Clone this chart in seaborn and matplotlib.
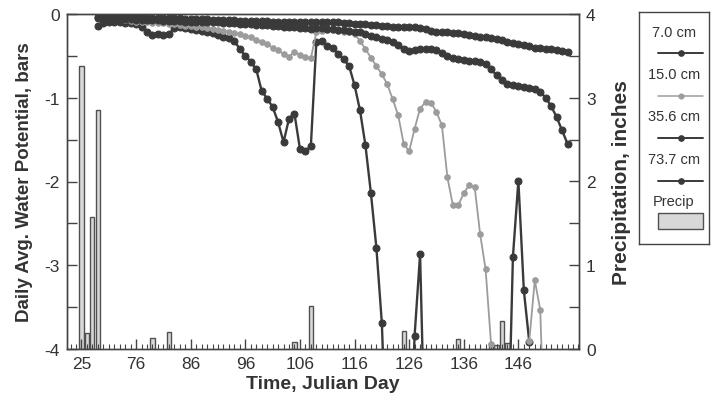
import numpy as np
import pandas as pd
import matplotlib
matplotlib.use("Agg")
import matplotlib.pyplot as plt
import seaborn as sns
from matplotlib.lines import Line2D
from matplotlib.patches import Rectangle
from matplotlib.ticker import MultipleLocator, FixedLocator

nan = np.nan

# ---------------- data ----------------
days = list(range(69, 156))

d7 = [-0.14, -0.11, -0.10, -0.10, -0.10, -0.11, -0.11, -0.12, -0.15, -0.22,
      -0.25, -0.24, -0.25, -0.24, -0.17, -0.16, -0.17, -0.18, -0.19, -0.20,
      -0.22, -0.23, -0.25, -0.27, -0.29, -0.32, -0.42, -0.50, -0.57, -0.66,
      -0.92, -1.01, -1.11, -1.29, -1.53, -1.25, -1.19, -1.61, -1.63, -1.58,
      -0.34, -0.32, -0.38, -0.40, -0.48, -0.54, -0.62, -0.85, -1.15, -1.57,
      -2.14, -2.79, -3.69, -5.5, nan, nan, nan, -5.5, -3.84, -2.87,
      -5.5, nan, nan, nan, nan, nan, nan, nan, nan, nan,
      nan, nan, nan, nan, nan, -5.5, -2.90, -1.99, -3.30, -3.92,
      nan, nan, nan, nan, nan, nan, nan]

d15 = [-0.04, -0.05, -0.05, -0.06, -0.06, -0.07, -0.08, -0.09, -0.10, -0.10,
       -0.11, -0.11, -0.11, -0.12, -0.12, -0.13, -0.14, -0.14, -0.15, -0.16,
       -0.17, -0.18, -0.19, -0.20, -0.21, -0.23, -0.24, -0.26, -0.28, -0.31,
       -0.33, -0.36, -0.40, -0.43, -0.48, -0.51, -0.45, -0.49, -0.51, -0.53,
       -0.22, -0.20, -0.19, -0.19, -0.20, -0.21, -0.22, -0.24, -0.32, -0.42,
       -0.52, -0.62, -0.72, -0.84, -1.02, -1.21, -1.55, -1.64, -1.37, -1.13,
       -1.05, -1.06, -1.17, -1.33, -1.95, -2.28, -2.28, -2.14, -2.04, -2.07,
       -2.63, -3.05, -3.94, nan, nan, nan, nan, nan, nan, -3.90,
       -3.18, -3.53, -5.5, nan, nan, nan, nan]

d35 = [-0.05, -0.05, -0.05, -0.06, -0.06, -0.06, -0.06, -0.07, -0.07, -0.07,
       -0.07, -0.07, -0.08, -0.08, -0.08, -0.08, -0.09, -0.09, -0.09, -0.09,
       -0.10, -0.10, -0.10, -0.11, -0.11, -0.11, -0.12, -0.12, -0.12, -0.13,
       -0.13, -0.13, -0.14, -0.14, -0.15, -0.15, -0.16, -0.17, -0.17, -0.18,
       -0.17, -0.17, -0.18, -0.18, -0.19, -0.19, -0.20, -0.21, -0.22, -0.24,
       -0.26, -0.28, -0.30, -0.31, -0.33, -0.37, -0.42, -0.44, -0.43, -0.42,
       -0.42, -0.42, -0.43, -0.46, -0.50, -0.52, -0.54, -0.55, -0.56, -0.56,
       -0.57, -0.60, -0.66, -0.73, -0.79, -0.84, -0.85, -0.86, -0.87, -0.88,
       -0.90, -0.93, -1.00, -1.10, -1.23, -1.39, -1.55]

d73 = [-0.03, -0.03, -0.03, -0.03, -0.04, -0.04, -0.04, -0.04, -0.04, -0.05,
       -0.05, -0.05, -0.05, -0.05, -0.05, -0.05, -0.06, -0.06, -0.06, -0.06,
       -0.06, -0.07, -0.07, -0.07, -0.07, -0.07, -0.08, -0.08, -0.08, -0.08,
       -0.08, -0.08, -0.09, -0.09, -0.09, -0.09, -0.09, -0.09, -0.09, -0.09,
       -0.09, -0.10, -0.10, -0.10, -0.10, -0.11, -0.11, -0.12, -0.12, -0.12,
       -0.13, -0.13, -0.14, -0.14, -0.15, -0.15, -0.15, -0.16, -0.16, -0.17,
       -0.18, -0.20, -0.21, -0.22, -0.22, -0.23, -0.23, -0.24, -0.25, -0.26,
       -0.27, -0.28, -0.29, -0.30, -0.31, -0.33, -0.35, -0.36, -0.37, -0.38,
       -0.40, -0.41, -0.42, -0.42, -0.43, -0.44, -0.45]

precip_days = [66, 67, 68, 69, 79, 82, 105, 108, 125, 135, 141, 142, 143, 144]
precip_in = [3.38, 0.19, 1.58, 2.85, 0.13, 0.20, 0.08, 0.51, 0.22, 0.12, 0.06, 0.05, 0.33, 0.07]

series_labels = ["7.0 cm", "15.0 cm", "35.6 cm", "73.7 cm"]
tick_pos = [66, 76, 86, 96, 106, 116, 126, 136, 146]
tick_labels = ["25", "76", "86", "96", "106", "116", "126", "136", "146"]
wp_ticks = [-4, -3, -2, -1, 0]
wp_tick_labels = ["-4", "-3", "-2", "-1", "0"]

# ---------------- styling ----------------
sns.set_style("ticks")
plt.rcParams["font.family"] = ["Liberation Sans", "DejaVu Sans"]
plt.rcParams["axes.unicode_minus"] = False
TXT = "#333333"
DARK = "#3a3a3a"
LIGHT = "#9c9c9c"

fig = plt.figure(figsize=(7.18, 4.06), dpi=100)
ax = fig.add_axes([67 / 718, 1 - 350 / 406, (579 - 67) / 718, (350 - 15) / 406])
ax2 = ax.twinx()

# precipitation bars (right axis)
ax2.bar(precip_days, precip_in, width=0.75, color="#d8d8d8", edgecolor="#505050",
        linewidth=1.0, zorder=2)
ax2.set_ylim(0, 4)

# water potential lines
styles = [
    (d7, DARK, 5.0, 1.7),
    (d15, LIGHT, 4.0, 1.3),
    (d35, DARK, 5.0, 1.7),
    (d73, DARK, 5.0, 1.7),
]
for lab, (vals, col, ms, lw) in zip(series_labels, styles):
    df = pd.DataFrame({"day": days, "wp": vals})
    df["seg"] = df["wp"].isna().cumsum()
    df = df.dropna()
    sns.lineplot(data=df, x="day", y="wp", units="seg", estimator=None, ax=ax,
                 color=col, linewidth=lw, marker="o", markersize=ms,
                 markeredgecolor=col, markerfacecolor=col, legend=False)

ax.set_zorder(ax2.get_zorder() + 1)
ax.patch.set_visible(False)

ax.set_xlim(63.35, 157.1)
ax.set_ylim(-4, 0)
ax.set_xticks(tick_pos)
ax.set_xticklabels(tick_labels)
ax.xaxis.set_minor_locator(MultipleLocator(1))
ax.set_yticks(wp_ticks)
ax.set_yticklabels(wp_tick_labels)
ax.yaxis.set_minor_locator(FixedLocator([-3.5, -2.5, -1.5, -0.5]))
ax2.set_yticks([0, 1, 2, 3, 4])
ax2.set_yticklabels(["0", "1", "2", "3", "4"])
ax2.yaxis.set_minor_locator(FixedLocator([0.5, 1.5, 2.5, 3.5]))

for a in (ax, ax2):
    for s in a.spines.values():
        s.set_color("#444444")
        s.set_linewidth(1.0)
ax.tick_params(axis="both", which="major", direction="in", length=7, width=1,
               color="#444444", labelsize=12.5, labelcolor=TXT, pad=5)
ax.tick_params(axis="x", which="minor", direction="in", length=3.5, width=0.8,
               color="#444444")
ax.tick_params(axis="y", which="minor", direction="in", length=7, width=1,
               color="#444444")
ax2.tick_params(axis="y", which="major", direction="in", length=7, width=1,
                color="#444444", labelsize=12.5, labelcolor=TXT, pad=5)
ax2.tick_params(axis="y", which="minor", direction="in", length=7, width=1,
                color="#444444")

ax.set_xlabel("Time, Julian Day", fontsize=14, fontweight="bold", color=TXT, labelpad=3)
ax.set_ylabel("Daily Avg. Water Potential, bars", fontsize=13.5, fontweight="bold",
              color=TXT, labelpad=8)
ax2.set_ylabel("Precipitation, inches", fontsize=15, fontweight="bold", color=TXT,
               labelpad=12)

# ---------------- legend box ----------------
lx0, ly0, lx1, ly1 = 639, 13, 709, 245
lax = fig.add_axes([lx0 / 718, 1 - ly1 / 406, (lx1 - lx0) / 718, (ly1 - ly0) / 406])
lax.set_xlim(0, lx1 - lx0)
lax.set_ylim(ly1 - ly0, 0)
lax.set_xticks([])
lax.set_yticks([])
for s in lax.spines.values():
    s.set_color("#444444")
    s.set_linewidth(1.0)
text_y = [20, 62, 104, 147, 189]
line_y = [41, 84, 126, 169]
leg_cols = [(DARK, 3.8, 1.4), (LIGHT, 3.4, 1.1), (DARK, 3.8, 1.4), (DARK, 3.8, 1.4)]
for i, lab in enumerate(series_labels):
    lax.text(35, text_y[i], lab, ha="center", va="center", fontsize=10.5, color=TXT)
    c, ms, lw = leg_cols[i]
    lax.add_line(Line2D([19, 64], [line_y[i]] * 2, color=c, lw=lw))
    lax.add_line(Line2D([41.5], [line_y[i]], color=c, marker="o", markersize=ms,
                        markeredgecolor=c, markerfacecolor=c))
lax.text(35, text_y[4], "Precip", ha="center", va="center", fontsize=10.5, color=TXT)
lax.add_patch(Rectangle((19, 201), 45, 16, facecolor="#d8d8d8", edgecolor="#505050",
                        linewidth=1.0))

fig.savefig("out.png", dpi=100, facecolor="white")
